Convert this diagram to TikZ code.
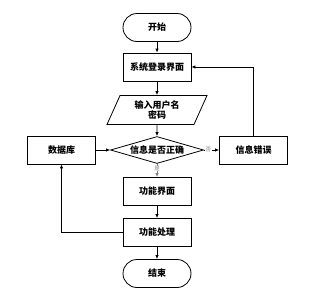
\documentclass[tikz,border=0pt]{standalone}
\usepackage{fontspec}
\newfontfamily\cjk{Noto Sans CJK SC}
\usetikzlibrary{shapes.geometric,arrows.meta}
\begin{document}
\begin{tikzpicture}[x=1pt,y=-1pt,
  every node/.style={font=\cjk\bfseries\fontsize{9}{11}\selectfont},
  box/.style={draw,line width=0.8pt,minimum width=68pt,minimum height=28pt,inner sep=0pt},
  term/.style={draw,line width=0.8pt,rounded corners=14pt,minimum width=68pt,minimum height=28pt,inner sep=0pt},
  para/.style={draw,line width=0.8pt,trapezium,trapezium left angle=55,trapezium right angle=125,minimum width=100pt,minimum height=29pt,inner sep=0pt,trapezium stretches body},
  dia/.style={draw,line width=0.8pt,diamond,aspect=3.6,minimum width=93pt,minimum height=27pt,inner sep=0pt},
  arr/.style={draw,line width=0.8pt,-{Latex[length=4pt,width=3.5pt]}},
  lbl/.style={font=\cjk\fontsize{5.5}{6}\selectfont,text=gray,fill=white,inner sep=0.3pt}]
\useasboundingbox (0,0) rectangle (335,300);
\node[term] (start) at (157,27.5) {开始};
\node[box] (login) at (157,67) {系统登录界面};
\node[para,align=center] (input) at (157,110) {输入用户名\\[-1pt]密码};
\node[dia] (check) at (157,150) {信息是否正确};
\node[box] (db) at (61.5,150) {数据库};
\node[box] (err) at (253.5,150) {信息错误};
\node[box] (func) at (157,191.5) {功能界面};
\node[box] (proc) at (157,232.5) {功能处理};
\node[term] (end) at (157,273.5) {结束};
\draw[arr] (start) -- (login);
\draw[arr] (login) -- (input);
\draw[arr] (input) -- (check);
\draw[arr] (db) -- (check);
\draw[arr] (check) -- node[lbl,pos=0.3]{否} (err);
\draw[arr,draw=gray] (check) -- node[lbl,pos=0.35]{是} (func);
\draw[arr] (func) -- (proc);
\draw[arr] (proc) -- (end);
\draw[arr] (err.north) |- (login.east);
\draw[arr] (proc.west) -| (db.south);
\end{tikzpicture}
\end{document}
